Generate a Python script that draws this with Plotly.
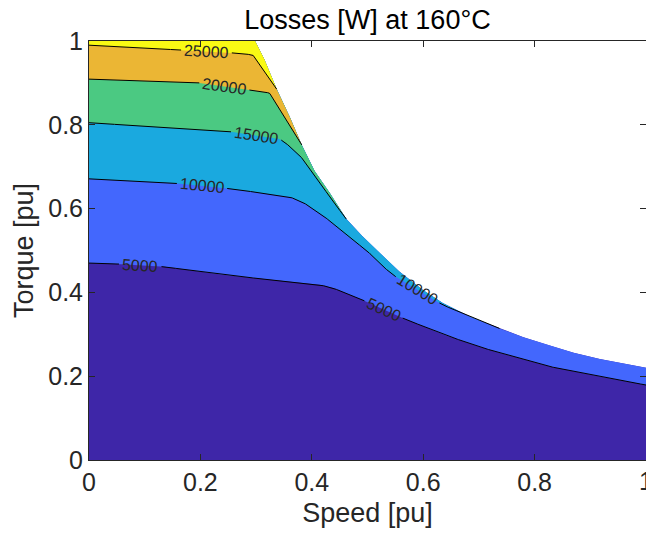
import numpy as np
import plotly.graph_objects as go

# ---------------- data ----------------
levels = [5000, 10000, 15000, 20000, 25000]
fill_colors = ['#3e26a8', '#4367fd', '#1aa9df', '#4bc982', '#ebb634', '#f9fa14']

# operating envelope (max torque vs speed)
env_speed = [0, 0.298, 0.315, 0.337, 0.36, 0.382, 0.405, 0.432, 0.462, 0.49, 0.516,
             0.557, 0.60, 0.635, 0.687, 0.737, 0.78, 0.827, 0.87, 0.917, 0.96, 1.0]
env_torque = [1.0, 1.0, 0.955, 0.885, 0.82, 0.752, 0.69, 0.638, 0.575, 0.535, 0.501,
              0.450, 0.405, 0.375, 0.340, 0.314, 0.293, 0.273, 0.256, 0.241, 0.230, 0.220]

c5000_speed = [0, 0.049, 0.136, 0.240, 0.414, 0.437, 0.491, 0.566, 0.640, 0.701, 0.737, 0.827, 0.917, 1.0]
c5000_torque = [0.470, 0.468, 0.461, 0.442, 0.418, 0.411, 0.382, 0.337, 0.298, 0.270, 0.256, 0.223, 0.199, 0.179]

c10000_speed = [0, 0.150, 0.256, 0.360, 0.383, 0.419, 0.468, 0.498, 0.521, 0.545, 0.635, 0.737]
c10000_torque = [0.671, 0.661, 0.647, 0.628, 0.616, 0.585, 0.530, 0.501, 0.470, 0.442, 0.370, 0.314]

c15000_speed = [0, 0.258, 0.342, 0.351, 0.378, 0.408, 0.432, 0.462]
c15000_torque = [0.805, 0.783, 0.766, 0.759, 0.728, 0.675, 0.628, 0.575]

c20000_speed = [0, 0.198, 0.288, 0.324, 0.382]
c20000_torque = [0.909, 0.900, 0.883, 0.876, 0.752]

c25000_speed = [0, 0.157, 0.265, 0.294, 0.337]
c25000_torque = [0.990, 0.979, 0.971, 0.967, 0.885]

# contour labels: (level index, speed position)
label_level = [0, 0, 1, 1, 2, 3, 4]
label_speed = [0.092, 0.529, 0.203, 0.590, 0.300, 0.243, 0.211]

x_ticks = [0, 0.2, 0.4, 0.6, 0.8, 1]
x_tick_text = ['0', '0.2', '0.4', '0.6', '0.8', '1']
y_ticks = [0, 0.2, 0.4, 0.6, 0.8, 1]
y_tick_text = ['0', '0.2', '0.4', '0.6', '0.8', '1']

# ---------------- layout geometry ----------------
W, H = 646, 542
ml, mr, mt, mb = 89, 0, 41, 82
PW, PH = W - ml - mr, H - mt - mb
FONT = 'Liberation Sans, Arial, sans-serif'
LABEL_SIZE = 16

contours = [(c5000_speed, c5000_torque), (c10000_speed, c10000_torque),
            (c15000_speed, c15000_torque), (c20000_speed, c20000_torque),
            (c25000_speed, c25000_torque)]

fig = go.Figure()

# base region (lowest band)
bx = list(env_speed) + [1, 0]
by = list(env_torque) + [0, 0]
fig.add_trace(go.Scatter(x=bx, y=by, fill='toself', fillcolor=fill_colors[0],
                         mode='lines', line=dict(width=0), hoverinfo='skip', showlegend=False))

# bands above each contour
for k, (cs, ct) in enumerate(contours):
    end_x = cs[-1]
    ex = [s for s in env_speed if s <= end_x + 1e-9]
    ey = [t for s, t in zip(env_speed, env_torque) if s <= end_x + 1e-9]
    px = list(cs) + ex[::-1]
    py = list(ct) + ey[::-1]
    fig.add_trace(go.Scatter(x=px, y=py, fill='toself', fillcolor=fill_colors[k + 1],
                             mode='lines', line=dict(width=0), hoverinfo='skip', showlegend=False))

# contour lines with gaps for labels
label_info = []
gaps = {k: [] for k in range(len(levels))}
for lk, ls in zip(label_level, label_speed):
    cs, ct = contours[lk]
    ly = float(np.interp(ls, cs, ct))
    d = 0.02
    y1 = np.interp(ls - d, cs, ct); y2 = np.interp(ls + d, cs, ct)
    ang = np.degrees(np.arctan2(-(y2 - y1) * PH, 2 * d * PW))  # positive = clockwise
    txt = str(levels[lk])
    half = len(txt) * 0.556 * LABEL_SIZE / 2 + 3
    dx = half * np.cos(np.radians(ang)) / PW
    gaps[lk].append((ls - dx, ls + dx))
    label_info.append((ls, ly, ang, txt))

for k, (cs, ct) in enumerate(contours):
    xs = np.linspace(cs[0], cs[-1], 800)
    xs = np.unique(np.concatenate([xs, cs]))
    ys = np.interp(xs, cs, ct)
    lx, ly = [], []
    prev_in = False
    for xv, yv in zip(xs, ys):
        ingap = any(a <= xv <= b for a, b in gaps[k])
        if ingap:
            if not prev_in:
                lx.append(None); ly.append(None)
            prev_in = True
            continue
        prev_in = False
        lx.append(float(xv)); ly.append(float(yv))
    fig.add_trace(go.Scatter(x=lx, y=ly, mode='lines', line=dict(color='black', width=1),
                             hoverinfo='skip', showlegend=False))

for ls, ly, ang, txt in label_info:
    fig.add_annotation(x=ls, y=ly, text=txt, showarrow=False, textangle=ang,
                       font=dict(family=FONT, size=LABEL_SIZE, color='#262626'),
                       xref='x', yref='y')

# last x tick label, partly cut by the figure edge as in the reference
fig.add_annotation(x=x_ticks[-1], y=0, xref='x', yref='paper', text=x_tick_text[-1],
                   showarrow=False, xanchor='center', yanchor='top', yshift=-5,
                   font=dict(family=FONT, size=25, color='#262626'))

axis_common = dict(showgrid=False, zeroline=False, showline=True, linecolor='#262626', linewidth=1,
                   ticks='inside', ticklen=6, tickcolor='#262626', mirror='ticks',
                   automargin=False,
                   tickfont=dict(family=FONT, size=25, color='#262626'))

fig.update_layout(
    width=W, height=H,
    margin=dict(l=ml, r=mr, t=mt, b=mb, pad=0),
    paper_bgcolor='white', plot_bgcolor='white',
    title=dict(text='Losses [W] at 160°C', x=0.5, xref='paper', xanchor='center',
               y=1 - 20 / H, yref='container', yanchor='middle',
               font=dict(family=FONT, size=27, color='black')),
    xaxis=dict(range=[0, 1], tickvals=x_ticks[:-1], ticktext=x_tick_text[:-1],
               title=dict(text='Speed [pu]', standoff=8,
                          font=dict(family=FONT, size=27, color='#262626')),
               **axis_common),
    yaxis=dict(range=[0, 1], tickvals=y_ticks, ticktext=y_tick_text,
               title=dict(text='Torque [pu]', standoff=6,
                          font=dict(family=FONT, size=27, color='#262626')),
               **axis_common),
)

fig.write_html('out.html', config={'displayModeBar': False},
               post_script="document.body.style.margin='0';document.body.style.overflow='hidden';")
